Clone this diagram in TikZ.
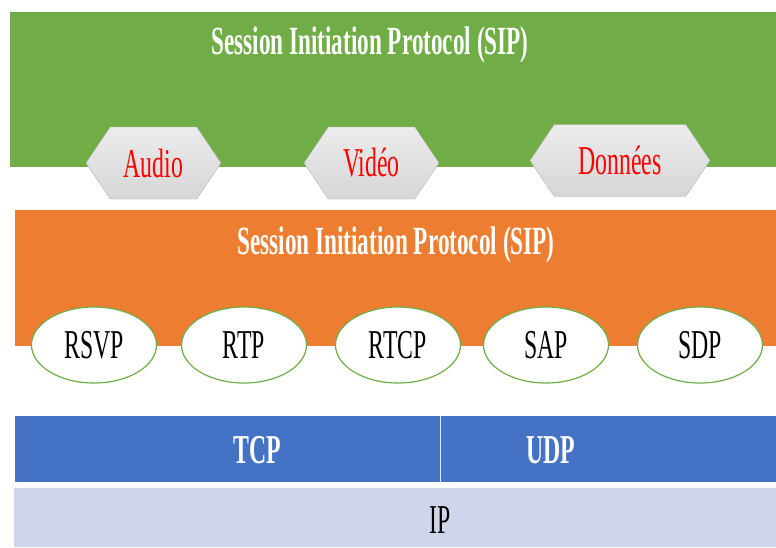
\documentclass[tikz,border=0pt]{standalone}
\usepackage{fontspec}
\setmainfont{Liberation Serif}[FakeStretch=0.58]
\usepackage{tikz}
\usetikzlibrary{positioning,shapes.geometric,shapes.symbols}
\definecolor{sipgreen}{HTML}{70AD47}
\definecolor{siporange}{HTML}{ED7D31}
\definecolor{tcpblue}{HTML}{4472C4}
\definecolor{iplilac}{HTML}{CFD5EA}

\begin{document}
\begin{tikzpicture}[x=1pt,y=-1pt,
    layertitle/.style={text=white,font=\fontsize{40}{42}\selectfont\bfseries},
    media/.style={signal,signal to=east and west,signal pointer angle=112,draw=gray!60,top color=gray!15,bottom color=gray!32,minimum width=135,minimum height=72,inner sep=0pt,text=red,font=\fontsize{41}{43}\selectfont},
    proto/.style={ellipse,draw=sipgreen,line width=1.2pt,fill=white,minimum width=125,minimum height=76,inner sep=0pt,font=\fontsize{41}{43}\selectfont},
    bandtext/.style={font=\fontsize{41}{43}\selectfont}]
            \useasboundingbox (0,0) rectangle (776,547);
            % application layer
            \fill[sipgreen] (10,12) rectangle (776,167);
            \node[layertitle] (sipA) at (370,45) {Session Initiation Protocol (SIP)};
            \node[media] (audio) at (153.5,163) {Audio};
            \node[media] (video) at (371.5,163) {Vidéo};
            \node[media,minimum width=180] (data) at (620,160.5) {Données};
            % session layer
            \fill[siporange] (15,210) rectangle (776,346);
            \node[layertitle] (sipB) at (396,245) {Session Initiation Protocol (SIP)};
            \node[proto] (rsvp) at (94,345) {RSVP};
            \node[proto] (rtp) at (244,345) {RTP};
            \node[proto] (rtcp) at (398,345) {RTCP};
            \node[proto] (sap) at (546,345) {SAP};
            \node[proto] (sdp) at (700,345) {SDP};
            % transport + network
            \fill[tcpblue] (15,416) rectangle (776,482);
            \draw[white!85!tcpblue,line width=1pt] (440,416) -- (440,482);
            \node[bandtext,text=white,font=\fontsize{41}{43}\selectfont\bfseries] (tcp) at (257,450) {TCP};
            \node[bandtext,text=white,font=\fontsize{41}{43}\selectfont\bfseries] (udp) at (551,450) {UDP};
            \fill[iplilac] (14,488) rectangle (776,547);
            \node[bandtext] (ip) at (440,520) {IP};
        \end{tikzpicture}
\end{document}
